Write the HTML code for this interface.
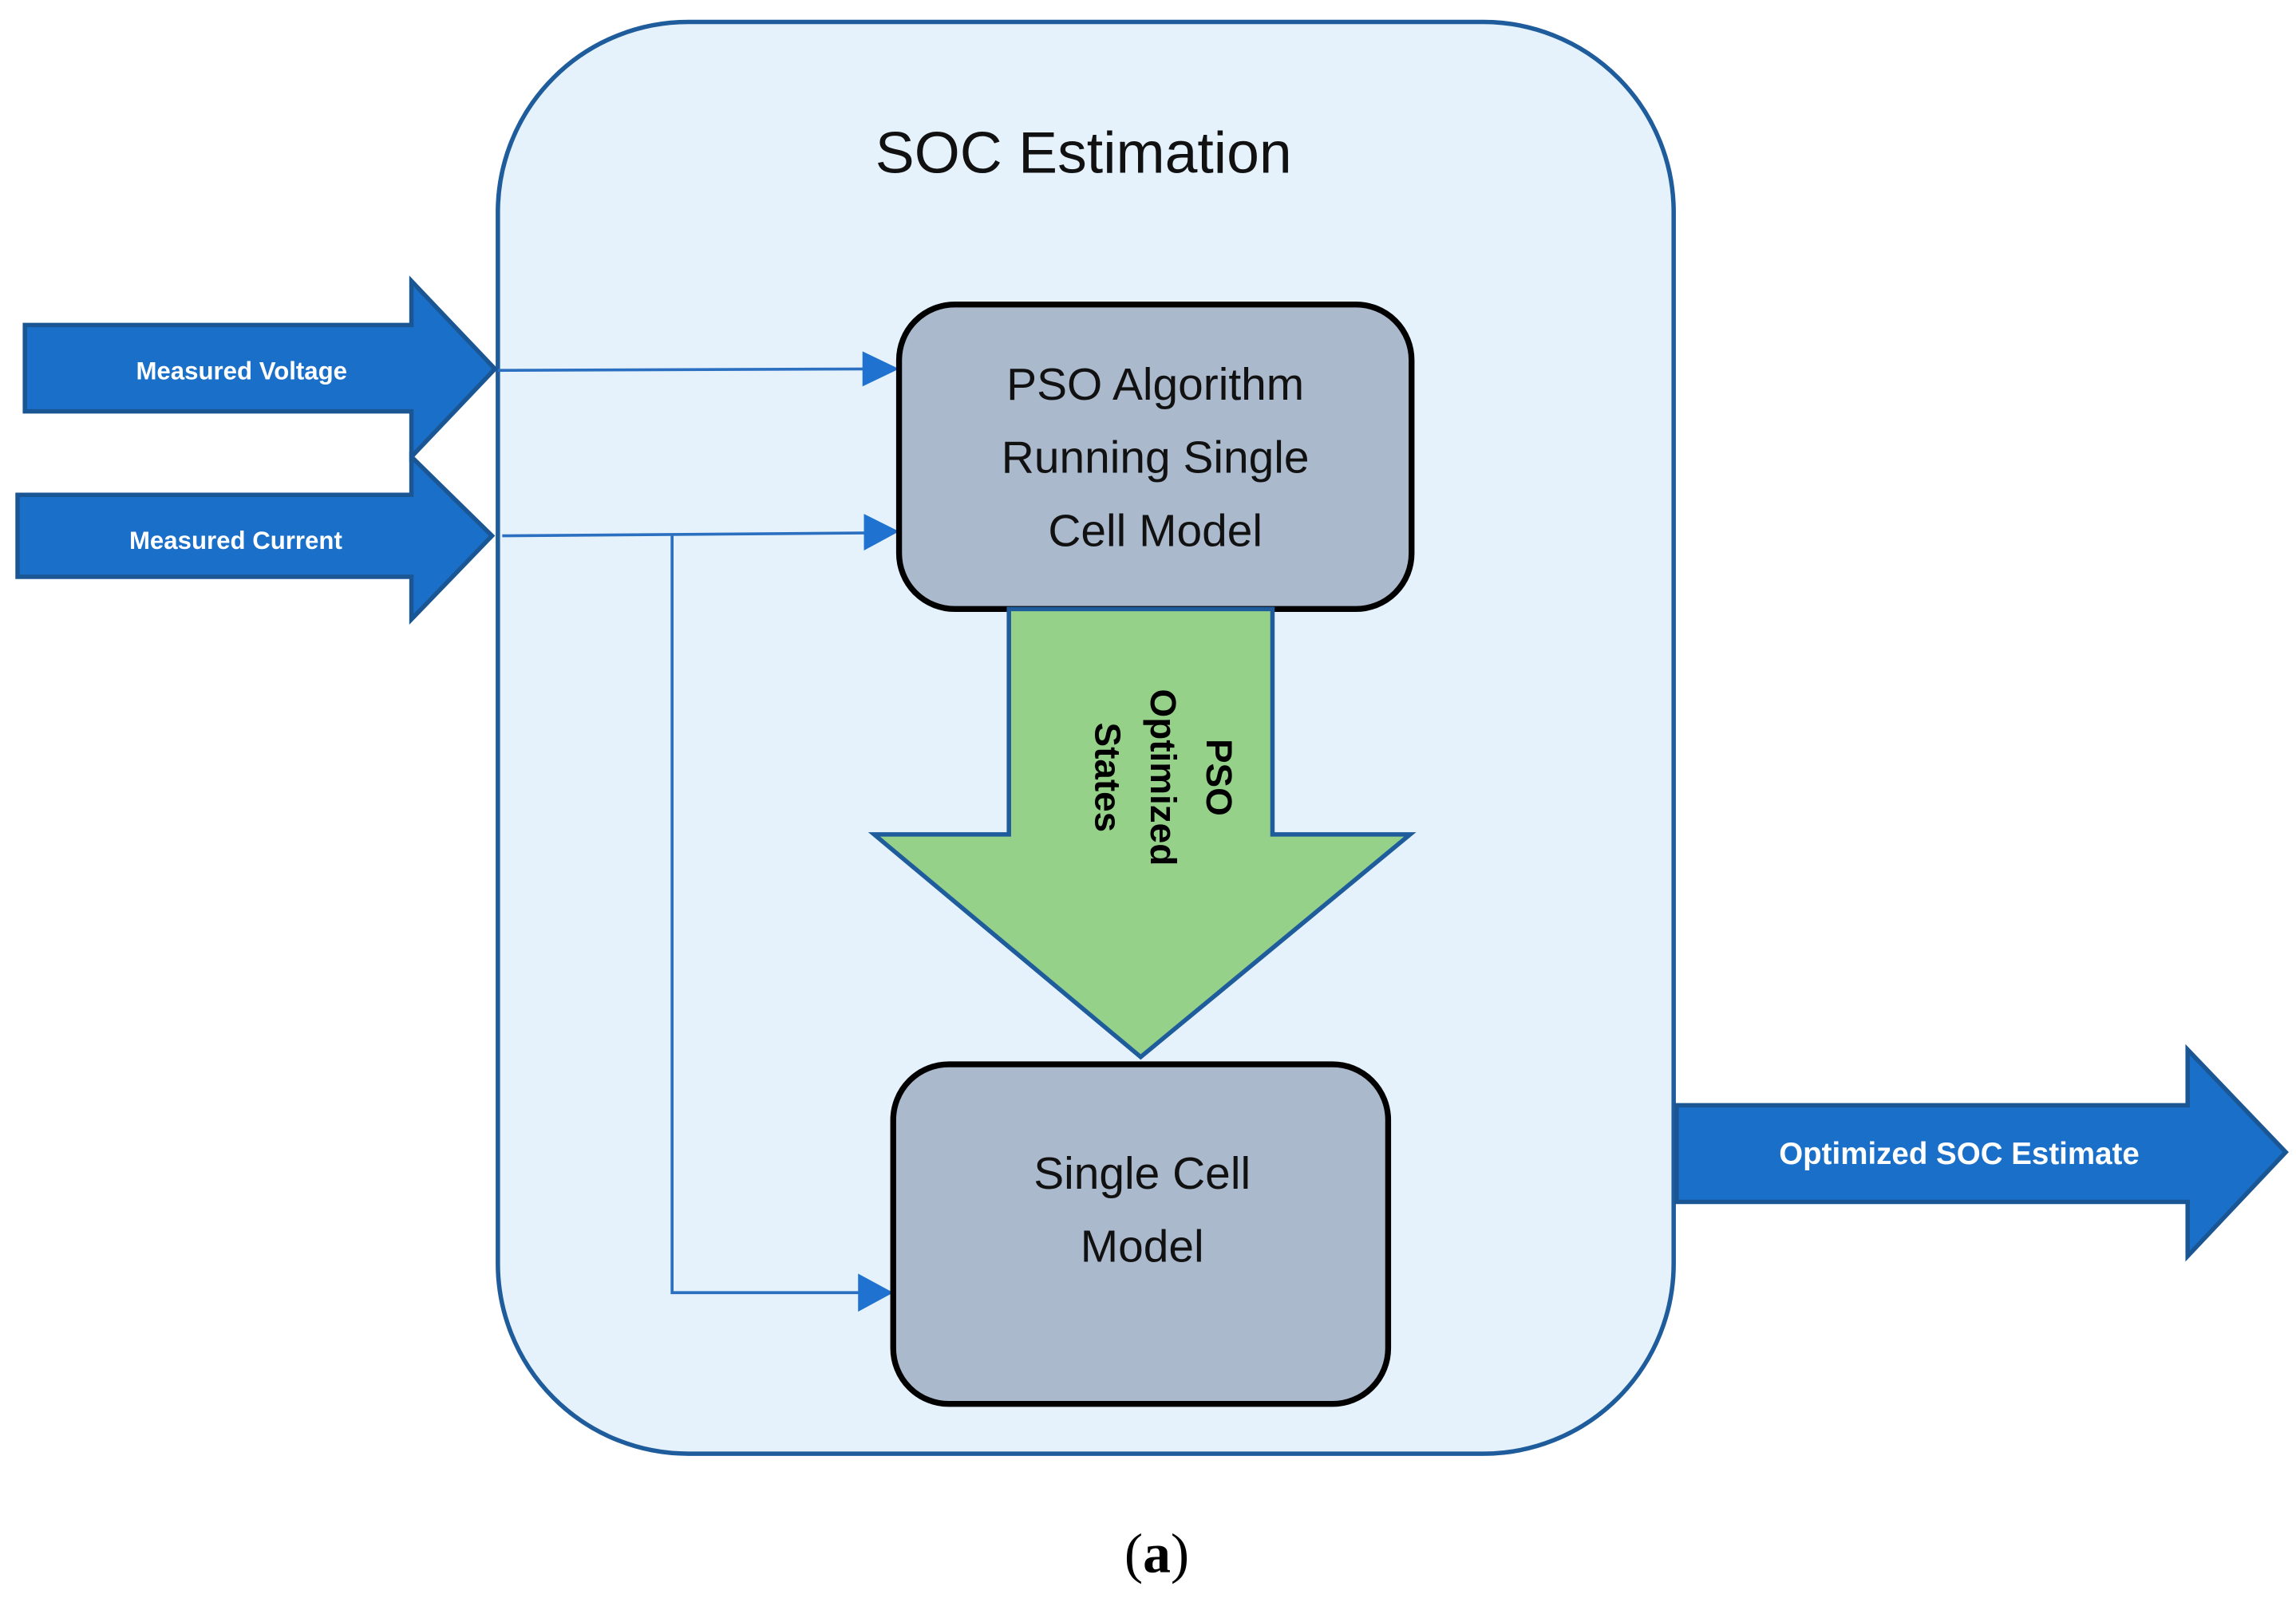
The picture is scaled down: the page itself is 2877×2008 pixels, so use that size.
<!DOCTYPE html>
<html><head><meta charset="utf-8"><style>
html,body{margin:0;padding:0;background:#fff;}
svg{display:block;}
</style></head><body>
<svg width="2877" height="2008" viewBox="0 0 1568 1094.3" preserveAspectRatio="none" xmlns="http://www.w3.org/2000/svg">
<rect x="340" y="15" width="803" height="978" rx="130" ry="130" fill="#e6f2fb" stroke="#1f5c9c" stroke-width="3"/>
<text x="740" y="118" font-family="Liberation Sans, sans-serif" font-size="40" text-anchor="middle" fill="#111">SOC Estimation</text>

<!-- input arrows -->
<polygon points="17,222 281,222 281,192 338,252 281,312 281,281 17,281" fill="#1a6fc9" stroke="#1a5694" stroke-width="3"/>
<text x="165" y="259" font-family="Liberation Sans, sans-serif" font-size="17" font-weight="bold" text-anchor="middle" fill="#fff">Measured Voltage</text>
<polygon points="12,338 281,338 281,312 336,366 281,423 281,394 12,394" fill="#1a6fc9" stroke="#1a5694" stroke-width="3"/>
<text x="161" y="375" font-family="Liberation Sans, sans-serif" font-size="17" font-weight="bold" text-anchor="middle" fill="#fff">Measured Current</text>

<!-- connectors -->
<g stroke="#2a6fc0" stroke-width="2" fill="none">
<line x1="340" y1="253" x2="596" y2="252"/>
<line x1="343" y1="366" x2="596" y2="364"/>
<polyline points="459,366 459,883 590,883"/>
</g>
<g fill="#1f72d0">
<polygon points="589,240 614,252 589,264"/>
<polygon points="590,351 614,363 590,376"/>
<polygon points="586,870 610,883 586,896"/>
</g>

<!-- PSO box -->
<rect x="614" y="208" width="350" height="208" rx="38" fill="#abb9cc" stroke="#000" stroke-width="4"/>
<g font-family="Liberation Sans, sans-serif" font-size="31" text-anchor="middle" fill="#111">
<text x="789" y="273">PSO Algorithm</text>
<text x="789" y="323">Running Single</text>
<text x="789" y="373">Cell Model</text>
</g>

<!-- green arrow -->
<polygon points="689,416 869,416 869,570 963,570 779,722 597,570 689,570" fill="#96d18a" stroke="#1f5c9c" stroke-width="3"/>
<g transform="translate(795,531) rotate(90)" font-family="Liberation Sans, sans-serif" font-size="25" font-weight="bold" text-anchor="middle" fill="#000">
<text x="0" y="-29">PSO</text>
<text x="0" y="9">Optimized</text>
<text x="0" y="47">States</text>
</g>

<!-- single cell box -->
<rect x="610" y="727" width="338" height="232" rx="38" fill="#abb9cc" stroke="#000" stroke-width="4"/>
<g font-family="Liberation Sans, sans-serif" font-size="31" text-anchor="middle" fill="#111">
<text x="780" y="812">Single Cell</text>
<text x="780" y="862">Model</text>
</g>

<!-- output arrow -->
<polygon points="1145,755 1494,755 1494,717 1561,787 1494,858 1494,821 1145,821" fill="#1a6fc9" stroke="#1a5694" stroke-width="3"/>
<text x="1338" y="795" font-family="Liberation Sans, sans-serif" font-size="21" font-weight="bold" text-anchor="middle" fill="#fff">Optimized SOC Estimate</text>

<text x="790" y="1074" font-family="Liberation Serif, serif" font-size="38" text-anchor="middle" fill="#000">(<tspan font-weight="bold">a</tspan>)</text>
</svg>
</body></html>
